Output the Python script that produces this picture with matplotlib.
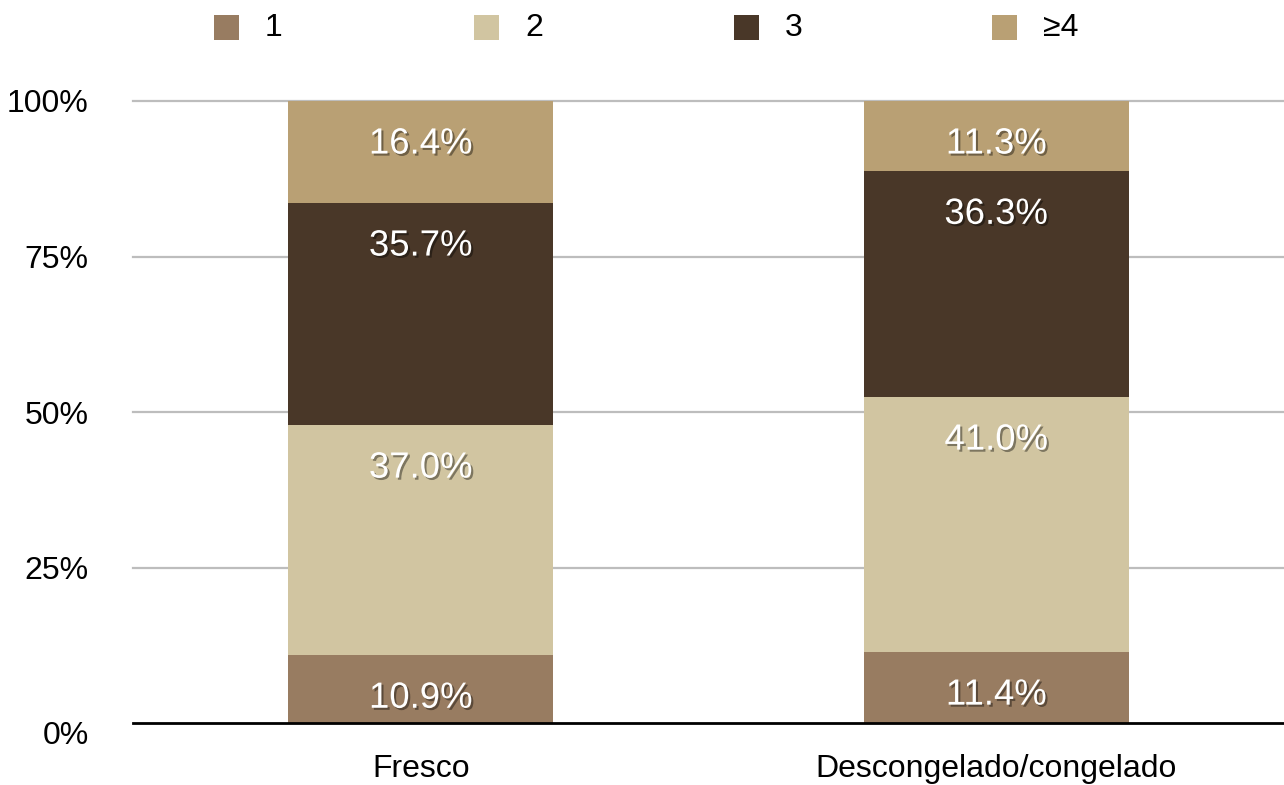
import matplotlib
matplotlib.use("Agg")
import matplotlib.pyplot as plt
import matplotlib.patheffects as pe
import matplotlib.transforms as mtransforms
from matplotlib.patches import Rectangle
import numpy as np

categories = ["Fresco", "Descongelado/congelado"]
series_names = ["1", "2", "3", "≥4"]
vals_1 = [10.9, 11.4]
vals_2 = [37.0, 41.0]
vals_3 = [35.7, 36.3]
vals_4 = [16.4, 11.3]
y_ticks = [0, 25, 50, 75, 100]
y_tick_labels = ["0%", "25%", "50%", "75%", "100%"]

colors = ["#987C61", "#D1C5A1", "#493728", "#B9A074"]
series_vals = [vals_1, vals_2, vals_3, vals_4]

plt.rcParams['font.family'] = ['Liberation Sans', 'DejaVu Sans']

W, H = 1284, 785
fig = plt.figure(figsize=(W / 100, H / 100), dpi=100)
ax = fig.add_axes([133 / W, (H - 723) / H, (W - 133) / W, (723 - 101) / H])

x = np.arange(len(categories))
bottom = np.zeros(len(categories))
shadow = [pe.SimplePatchShadow(offset=(1.5, -1.5), shadow_rgbFace='black', alpha=0.4), pe.Normal()]
for name, vals, col in zip(series_names, series_vals, colors):
    vals = np.array(vals)
    ax.bar(x, vals, width=0.46, bottom=bottom, color=col, zorder=3, label=name)
    for xi, b, v in zip(x, bottom, vals):
        ax.annotate(f"{v:.1f}%", xy=(xi, b + v), xytext=(0, -31), textcoords="offset points",
                    ha="center", va="center", color="white", fontsize=26.3, zorder=5,
                    path_effects=shadow)
    bottom += vals

ax.set_xlim(-0.5, 1.5)
ax.set_ylim(0, 100)
ax.set_yticks(y_ticks)
ax.set_yticklabels(y_tick_labels)
ax.set_xticks(x)
ax.set_xticklabels(categories)
ax.tick_params(axis='y', length=0, pad=32, labelsize=23)
ax.tick_params(axis='x', length=0, pad=22, labelsize=23)
# the 0% label sits slightly below the baseline in the reference
lbl0 = ax.get_yticklabels()[0]
lbl0.set_transform(lbl0.get_transform() + mtransforms.ScaledTranslation(0, -10 / 100, fig.dpi_scale_trans))

for t in y_ticks[1:]:
    ax.axhline(t, color="#BDBDBD", linewidth=1.6, zorder=1, clip_on=False)
ax.axhline(0, color="black", linewidth=2.0, zorder=4, clip_on=False)
for s in ax.spines.values():
    s.set_visible(False)

# legend drawn manually across the top
leg_x = [214, 474, 734, 992]
for lx, name, col in zip(leg_x, series_names, colors):
    fig.add_artist(Rectangle((lx / W, (H - 40) / H), 25 / W, 25 / H, transform=fig.transFigure,
                             facecolor=col, edgecolor="none"))
    fig.text((lx + 51) / W, (H - 27.5) / H, name, fontsize=23, va="center", ha="left", color="black")

fig.savefig("out.png", dpi=100)
